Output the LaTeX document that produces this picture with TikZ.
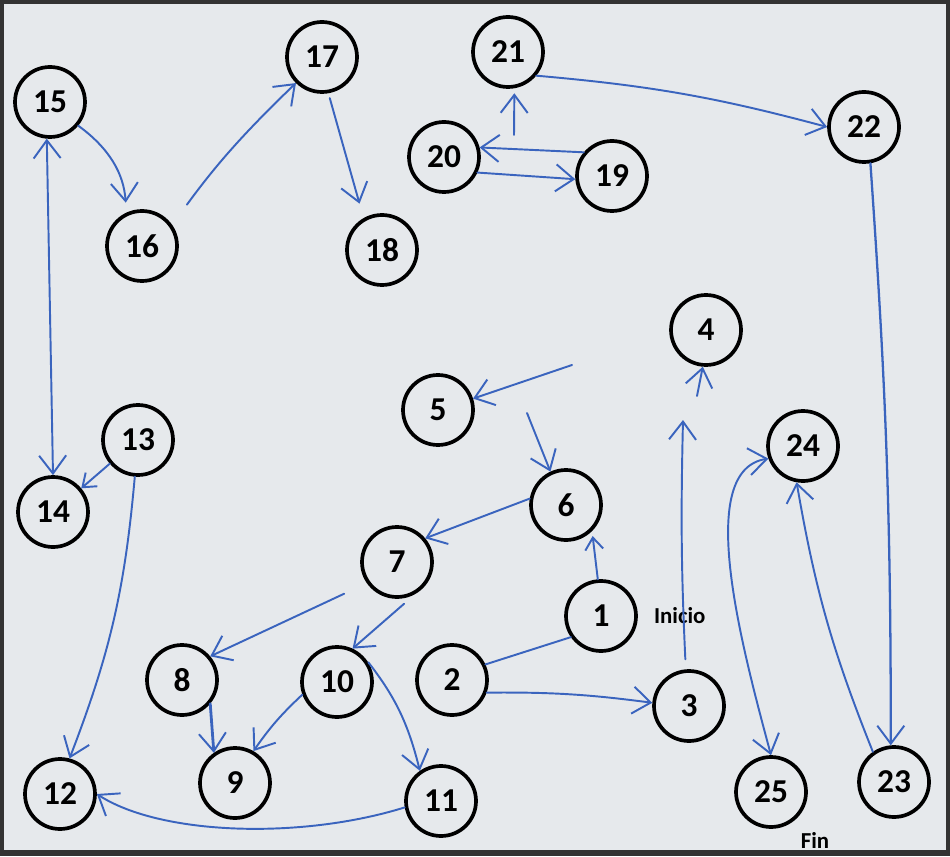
\documentclass[tikz,border=0pt]{standalone}
\usepackage{fontspec}
\setmainfont{Carlito}
\usetikzlibrary{arrows.meta,calc}
\definecolor{azul}{RGB}{58,100,190}
\definecolor{papel}{RGB}{230,233,236}
\tikzset{
	punto/.style={circle, draw=black, line width=2.1pt, minimum size=14mm, inner sep=0pt, font=\fontsize{19}{22}\selectfont\bfseries},
	linea/.style={draw=azul, line width=1.1pt, line cap=round},
	flecha/.style={linea, -{Straight Barb[length=3.6mm,width=5.4mm,line width=1.1pt]}},
	flechita/.style={linea, -{Straight Barb[length=2.4mm,width=3.6mm,line width=1.1pt]}},
	dosflechas/.style={linea, {Straight Barb[length=3.6mm,width=5.4mm,line width=1.1pt]}-{Straight Barb[length=3.6mm,width=5.4mm,line width=1.1pt]}}
}

\begin{document}
\begin{tikzpicture}[x=0.2mm,y=-0.2mm]
		\fill[papel] (0,0) rectangle (950,856);
		\useasboundingbox (0,0) rectangle (950,856);
		\draw[black!80, line width=3pt] (1,1) rectangle (949,853);
		
		\node[punto] (N1) at (601,616) {1};
		\node[punto] (N2) at (452,680) {2};
		\node[punto] (N3) at (689,706) {3};
		\node[punto] (N4) at (706,330) {4};
		\node[punto] (N5) at (438,410) {5};
		\node[punto] (N6) at (566,505) {6};
		\node[punto] (N7) at (397,562) {7};
		\node[punto] (N8) at (182,680) {8};
		\node[punto] (N9) at (235,783) {9};
		\node[punto] (N10) at (337,682) {10};
		\node[punto] (N11) at (441,801) {11};
		\node[punto] (N12) at (60,794) {12};
		\node[punto] (N13) at (138,440) {13};
		\node[punto] (N14) at (53,512) {14};
		\node[punto] (N15) at (50,102) {15};
		\node[punto] (N16) at (142,246) {16};
		\node[punto] (N17) at (322,57) {17};
		\node[punto] (N18) at (382,250) {18};
		\node[punto] (N19) at (612,176) {19};
		\node[punto] (N20) at (444,157) {20};
		\node[punto] (N21) at (508,52) {21};
		\node[punto] (N22) at (864,127) {22};
		\node[punto] (N23) at (894,782) {23};
		\node[punto] (N24) at (803,446) {24};
		\node[punto] (N25) at (771,792) {25};
		
		\node[font=\fontsize{13}{15}\selectfont\bfseries, anchor=west, xshift=2mm] (inicio) at (N1.east) {Inicio};
		\node[font=\fontsize{13}{15}\selectfont\bfseries] (fin) at (815,840) {Fin};
		
		\coordinate (C4a) at (683,420);
		\coordinate (C4b) at (697,396);
		\coordinate (C5) at (572,365);
		\coordinate (C6) at (527,413);
		\coordinate (C21) at (514,135);
		
		\draw[linea] (N1.215) -- (N2.25);
		\draw[flecha] (N2.-20) to[bend left=4] (N3.175);
		\draw[flecha, shorten <=2mm] (N3.95) to[bend left=2] (C4a);
		\draw[flecha] (C4b) -- (N4.-95);
		\draw[flecha] (C5) -- (N5.18);
		\draw[flecha] (C6) -- (N6.115);
		\draw[flechita, shorten >=1mm] (N1.95) -- (N6.-45);
		\draw[flecha] (N6.170) -- (N7.40);
		\draw[flecha, shorten <=5mm] (N7.215) -- (N8.40);
		\draw[flecha, shorten <=3mm] (N7.-60) -- (N10.65);
		\draw[flecha, shorten <=1mm] (N10.40) to[bend left=12] (N11.125);
		\draw[flecha, line width=1.6pt] (N8.-40) -- (N9.125);
		\draw[flecha] (N10.200) to[bend right=6] (N9.60);
		\draw[flecha] (N11.190) .. controls (300,840) and (160,835) .. (N12.east);
		\draw[flechita] (N13.220) -- (N14.40);
		\draw[flecha] (N13.-95) to[bend left=8] (N12.75);
		\draw[dosflechas] (N15.-95) -- (N14.north);
		\draw[flecha, shorten >=2mm] (N15.-40) to[bend left=25] (N16.115);
		\draw[flecha, shorten <=5mm] (N16.35) to[bend left=5] (N17.225);
		\draw[flecha, shorten <=1mm, shorten >=3mm] (N17.-80) -- (N18.120);
		\draw[flecha] (N20.-25) -- (N19.185);
		\draw[flecha] (N19.140) -- (N20.15);
		\draw[flecha, shorten >=1mm] (C21) -- (N21.-80);
		\draw[flecha] (N21.-40) to[out=-5,in=165] (N22.west);
		\draw[flecha, line width=1.3pt] (N22.-80) to[bend left=2] (N23.95);
		\draw[flecha] (N23.125) to[bend left=6] (N24.-100);
		\draw[dosflechas] (N25.north) .. controls (740,640) and (695,470) .. (N24.200);
	\end{tikzpicture}
\end{document}
